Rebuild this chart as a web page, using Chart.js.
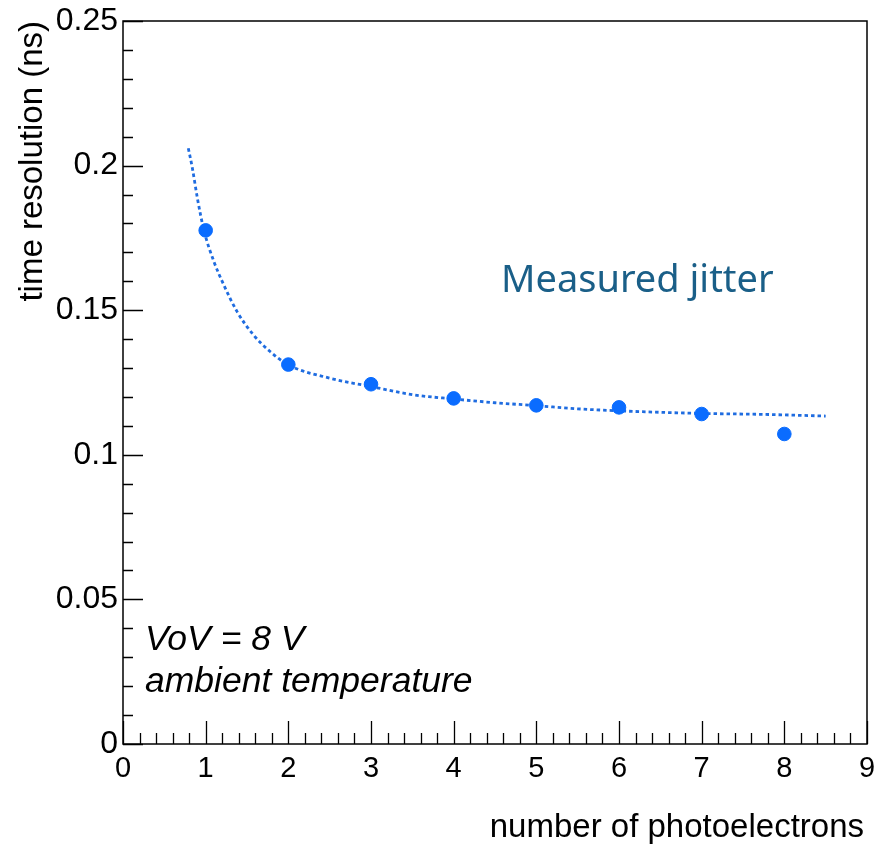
<!DOCTYPE html>
<html>
<head>
<meta charset="utf-8">
<script src="https://cdn.jsdelivr.net/npm/chart.js@4.4.1/dist/chart.umd.min.js"></script>
<style>
  html, body { margin: 0; padding: 0; background: #ffffff; }
  #wrap { width: 876px; height: 846px; }
</style>
</head>
<body>
<div id="wrap"><canvas id="c" width="876" height="846"></canvas></div>
<script>
// Measured time resolution vs number of photoelectrons
const photoelectrons = [1, 2, 3, 4, 5, 6, 7, 8];
const resolutionNs   = [0.1776, 0.1312, 0.1244, 0.1195, 0.1171, 0.1164, 0.1141, 0.1072];

// Fitted curve, sampled along its dotted trace
const fitX = [0.79, 0.84, 0.90, 0.98, 1.10, 1.22, 1.38, 1.58, 1.78, 2.00, 2.50, 3.00, 3.50, 4.00, 4.50, 5.00, 5.50, 6.00, 6.50, 7.00, 7.70, 8.50];
const fitY = [0.2060, 0.1990, 0.1887, 0.1775, 0.1668, 0.1587, 0.1495, 0.1414, 0.1357, 0.1311, 0.1265, 0.1236, 0.1208, 0.1193, 0.1180, 0.1170, 0.1159, 0.1152, 0.1147, 0.1143, 0.1140, 0.1134];

// Axis tick labels
const xTickLabels = ['0', '1', '2', '3', '4', '5', '6', '7', '8', '9'];
const yTickLabels = ['0', '0.05', '0.1', '0.15', '0.2', '0.25'];

const xTitle = 'number of photoelectrons';
const yTitle = 'time resolution (ns)';
const seriesLabel = 'Measured jitter';
const noteLines = ['VoV = 8 V', 'ambient temperature'];

const HELV = '"Liberation Sans", Arial, Helvetica, sans-serif';

// ROOT-style frame, inward ticks, titles and notes
const frameAndText = {
  id: 'frameAndText',
  afterDatasetsDraw(chart) {
    const ctx = chart.ctx;
    const a = chart.chartArea;
    const xs = chart.scales.x, ys = chart.scales.y;
    ctx.save();
    ctx.strokeStyle = '#000000';
    ctx.lineWidth = 1.5;
    ctx.strokeRect(a.left, a.top, a.right - a.left, a.bottom - a.top);

    ctx.lineWidth = 1.3;
    ctx.beginPath();
    for (let i = 0; i <= 45; i++) {
      const v = i * 0.2;
      const px = Math.round(xs.getPixelForValue(v)) + 0.5;
      const len = (i % 5 === 0) ? 23 : 11;
      ctx.moveTo(px, a.bottom);
      ctx.lineTo(px, a.bottom - len);
    }
    for (let i = 0; i <= 25; i++) {
      const v = i * 0.01;
      const py = Math.round(ys.getPixelForValue(v)) + 0.5;
      const len = (i % 5 === 0) ? 20 : 10;
      ctx.moveTo(a.left, py);
      ctx.lineTo(a.left + len, py);
    }
    ctx.stroke();

    // axis titles
    ctx.fillStyle = '#000000';
    ctx.font = '33px ' + HELV;
    ctx.textAlign = 'right';
    ctx.textBaseline = 'alphabetic';
    ctx.fillText(xTitle, 864, 837);

    ctx.save();
    ctx.translate(42, 21);
    ctx.rotate(-Math.PI / 2);
    ctx.textAlign = 'right';
    ctx.fillText(yTitle, 0, 0);
    ctx.restore();

    // notes
    ctx.textAlign = 'left';
    ctx.font = 'italic 35.5px ' + HELV;
    ctx.fillText(noteLines[0], 145, 650);
    ctx.fillText(noteLines[1], 145, 692);

    // series label
    ctx.fillStyle = '#1a5f88';
    ctx.font = '38px "Noto Sans", "Open Sans", sans-serif';
    ctx.fillText(seriesLabel, 501, 292);
    ctx.restore();
  }
};

new Chart(document.getElementById('c'), {
  type: 'scatter',
  data: {
    datasets: [
      {
        label: 'fit',
        type: 'line',
        data: fitX.map((x, i) => ({ x: x, y: fitY[i] })),
        borderColor: '#1f6ce0',
        borderWidth: 2.8,
        borderDash: [3.5, 3],
        pointRadius: 0,
        fill: false,
        cubicInterpolationMode: 'monotone',
        order: 2
      },
      {
        label: seriesLabel,
        data: photoelectrons.map((x, i) => ({ x: x, y: resolutionNs[i] })),
        backgroundColor: '#0a6cff',
        borderColor: '#0a6cff',
        pointRadius: 6.8,
        pointHoverRadius: 6.8,
        showLine: false,
        order: 1
      }
    ]
  },
  options: {
    responsive: false,
    animation: false,
    events: [],
    layout: { padding: { left: 0, right: 9, top: 21, bottom: 0 } },
    plugins: {
      legend: { display: false },
      tooltip: { enabled: false },
      title: { display: false }
    },
    scales: {
      x: {
        type: 'linear',
        min: 0, max: 9,
        grid: { display: false, drawTicks: false },
        border: { display: false },
        afterFit(scale) {
          scale.height = 102;
          scale.paddingLeft = 0;
          scale.paddingRight = 0;
        },
        afterBuildTicks(scale) {
          scale.ticks = xTickLabels.map(t => ({ value: Number(t) }));
        },
        ticks: {
          autoSkip: false,
          maxRotation: 0,
          padding: 8,
          color: '#000000',
          font: { family: HELV, size: 29 },
          callback: (v, i) => xTickLabels[i]
        }
      },
      y: {
        type: 'linear',
        min: 0, max: 0.25,
        grid: { display: false, drawTicks: false },
        border: { display: false },
        afterFit(scale) {
          scale.width = 123;
          scale.paddingTop = 0;
          scale.paddingBottom = 0;
        },
        afterBuildTicks(scale) {
          scale.ticks = yTickLabels.map(t => ({ value: Number(t) }));
        },
        ticks: {
          autoSkip: false,
          padding: 5,
          color: '#000000',
          font: { family: HELV, size: 32 },
          callback: (v, i) => yTickLabels[i]
        }
      }
    }
  },
  plugins: [frameAndText]
});
</script>
</body>
</html>
